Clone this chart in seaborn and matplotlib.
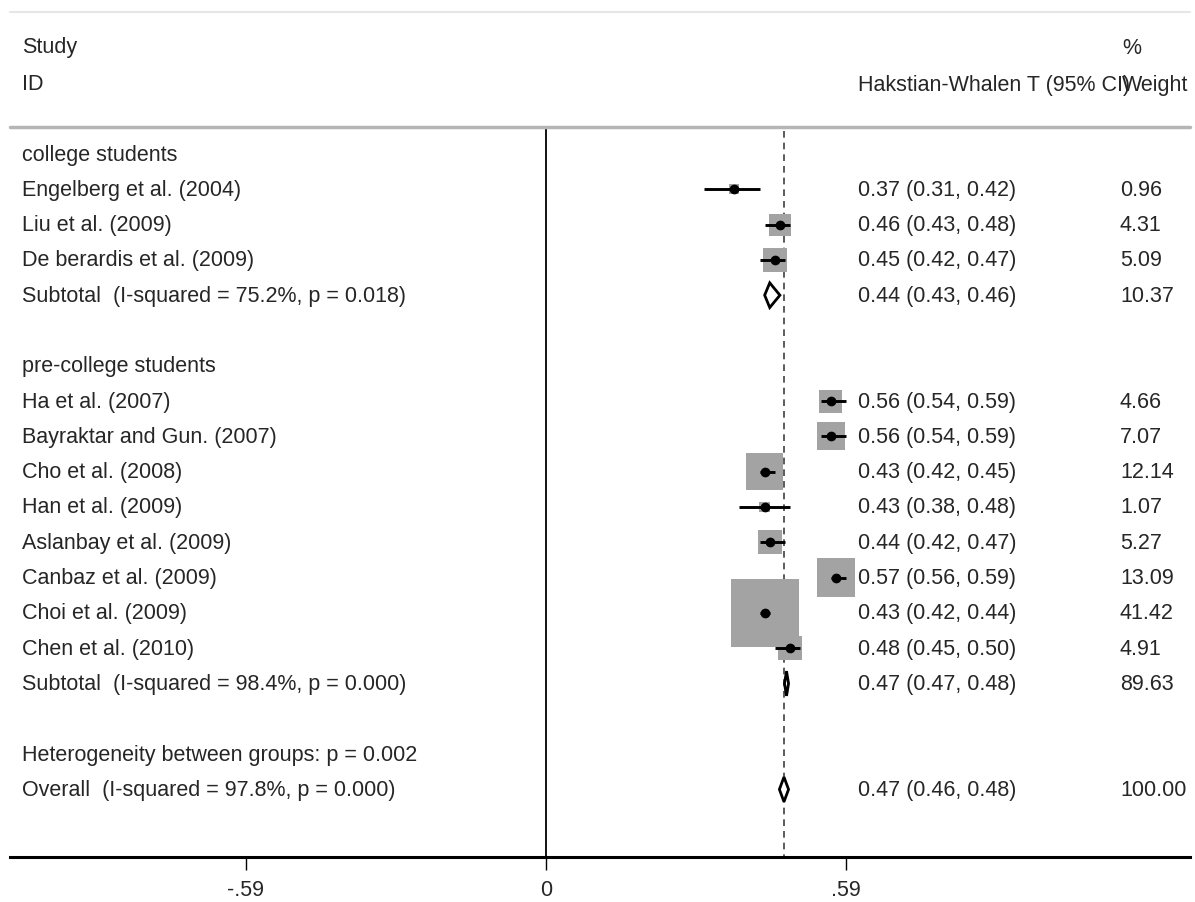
import numpy as np
import pandas as pd
import seaborn as sns
import matplotlib
matplotlib.use("Agg")
import matplotlib.pyplot as plt

# study data
college_names = ["Engelberg et al. (2004)", "Liu et al. (2009)", "De berardis et al. (2009)"]
college_es = [0.37, 0.46, 0.45]
college_lo = [0.31, 0.43, 0.42]
college_hi = [0.42, 0.48, 0.47]
college_w = [0.96, 4.31, 5.09]

pre_names = ["Ha et al. (2007)", "Bayraktar and Gun. (2007)", "Cho et al. (2008)",
             "Han et al. (2009)", "Aslanbay et al. (2009)", "Canbaz et al. (2009)",
             "Choi et al. (2009)", "Chen et al. (2010)"]
pre_es = [0.56, 0.56, 0.43, 0.43, 0.44, 0.57, 0.43, 0.48]
pre_lo = [0.54, 0.54, 0.42, 0.38, 0.42, 0.56, 0.42, 0.45]
pre_hi = [0.59, 0.59, 0.45, 0.48, 0.47, 0.59, 0.44, 0.50]
pre_w = [4.66, 7.07, 12.14, 1.07, 5.27, 13.09, 41.42, 4.91]

# pooled estimates: college subtotal, pre-college subtotal, overall
pooled_labels = ["Subtotal  (I-squared = 75.2%, p = 0.018)",
                 "Subtotal  (I-squared = 98.4%, p = 0.000)",
                 "Overall  (I-squared = 97.8%, p = 0.000)"]
pooled_es = [0.44, 0.473, 0.468]
pooled_lo = [0.43, 0.469, 0.459]
pooled_hi = [0.46, 0.477, 0.477]
pooled_w = [10.37, 89.63, 100.00]

group_labels = ["college students", "pre-college students"]
het_text = "Heterogeneity between groups: p = 0.002"
tick_vals = [-0.59, 0, 0.59]
tick_text = ["-.59", "0", ".59"]

# pixel helpers (figure is 1195x903 px, axes fills the figure)
def px2x(px):
    return (px - 546) / 508.5

def px2row(py):
    return (py - 155) / 35.3

sns.set_theme(style="white")
plt.rcParams['font.family'] = ['Liberation Sans', 'DejaVu Sans']
FS = 15.5

fig = plt.figure(figsize=(11.95, 9.03), dpi=100)
ax = fig.add_axes([0, 0, 1, 1])
ax.set_xlim(px2x(0), px2x(1195))
ax.set_ylim(px2row(903), px2row(0))

# build study table with row positions
rows = []
r = 1
for n, e, l, h, w in zip(college_names, college_es, college_lo, college_hi, college_w):
    rows.append(dict(name=n, es=e, lo=l, hi=h, w=w, row=r)); r += 1
sub_rows = [r]
r += 2
group_rows = [0, r]
r += 1
for n, e, l, h, w in zip(pre_names, pre_es, pre_lo, pre_hi, pre_w):
    rows.append(dict(name=n, es=e, lo=l, hi=h, w=w, row=r)); r += 1
sub_rows.append(r)
het_row = r + 2
sub_rows.append(r + 3)
df = pd.DataFrame(rows)

axis_row = px2row(858)
top_row = px2row(128)

# reference lines
ax.plot([0, 0], [top_row, axis_row], color="black", lw=1.3, zorder=1)
ax.plot([pooled_es[2], pooled_es[2]], [top_row + 0.1, axis_row], color="#404040",
        lw=1.2, ls=(0, (4, 3)), zorder=1)
ax.plot([px2x(10), px2x(1190)], [top_row, top_row], color="#b5b5b5", lw=2.5, zorder=1)
ax.plot([px2x(10), px2x(1190)], [px2row(13), px2row(13)], color="#e6e6e6", lw=1.5, zorder=1)

# weight boxes (area proportional to weight)
k = 58
sns.scatterplot(data=df, x="es", y="row", size="w", sizes=(k * df.w.min(), k * df.w.max()),
                size_norm=(df.w.min(), df.w.max()), marker="s", color="#a3a3a3",
                edgecolor="none", legend=False, ax=ax, zorder=2)

# confidence intervals and point estimates
ax.hlines(df.row, df.lo, df.hi, color="black", lw=2.1, zorder=3)
ax.plot(df.es, df.row, "o", color="black", ms=6, zorder=4)

# diamonds for pooled estimates
hh = 0.35
for rr, e, l, h in zip(sub_rows, pooled_es, pooled_lo, pooled_hi):
    ax.fill([l, e, h, e], [rr, rr - hh, rr, rr + hh], fc="white", ec="black", lw=2, zorder=4)

# left column text
xl = px2x(22)
xe = px2x(858)
xw = px2x(1120)
ax.text(xl, px2row(48), "Study", fontsize=FS, va="center")
ax.text(xl, px2row(85), "ID", fontsize=FS, va="center")
ax.text(xe, px2row(85), "Hakstian-Whalen T (95% CI)", fontsize=FS, va="center")
ax.text(px2x(1122), px2row(48), "%", fontsize=FS, va="center")
ax.text(px2x(1122), px2row(85), "Weight", fontsize=FS, va="center")

for g, gr in zip(group_labels, group_rows):
    ax.text(xl, gr, g, fontsize=FS, va="center")
for _, s in df.iterrows():
    ax.text(xl, s.row, s["name"], fontsize=FS, va="center")
    ax.text(xe, s.row, f"{s.es:.2f} ({s.lo:.2f}, {s.hi:.2f})", fontsize=FS, va="center")
    ax.text(xw, s.row, f"{s.w:.2f}", fontsize=FS, va="center")
for lab, rr, e, l, h, w in zip(pooled_labels, sub_rows, pooled_es, pooled_lo, pooled_hi, pooled_w):
    ax.text(xl, rr, lab, fontsize=FS, va="center")
    ax.text(xe, rr, f"{e:.2f} ({l:.2f}, {h:.2f})", fontsize=FS, va="center")
    ax.text(xw, rr, f"{w:.2f}", fontsize=FS, va="center")
ax.text(xl, het_row, het_text, fontsize=FS, va="center")

# x axis
for side in ["left", "right", "top"]:
    ax.spines[side].set_visible(False)
ax.spines["bottom"].set_position(("data", axis_row))
ax.spines["bottom"].set_bounds(px2x(10), px2x(1190))
ax.spines["bottom"].set_linewidth(2.2)
ax.spines["bottom"].set_color("black")
ax.set_xticks(tick_vals)
ax.set_xticklabels(tick_text, fontsize=FS)
ax.tick_params(axis="x", bottom=True, length=9, width=1, color="black", pad=7)
ax.set_yticks([])
ax.set_xlabel("")
ax.set_ylabel("")

fig.savefig("out.png", dpi=100, facecolor="white")
